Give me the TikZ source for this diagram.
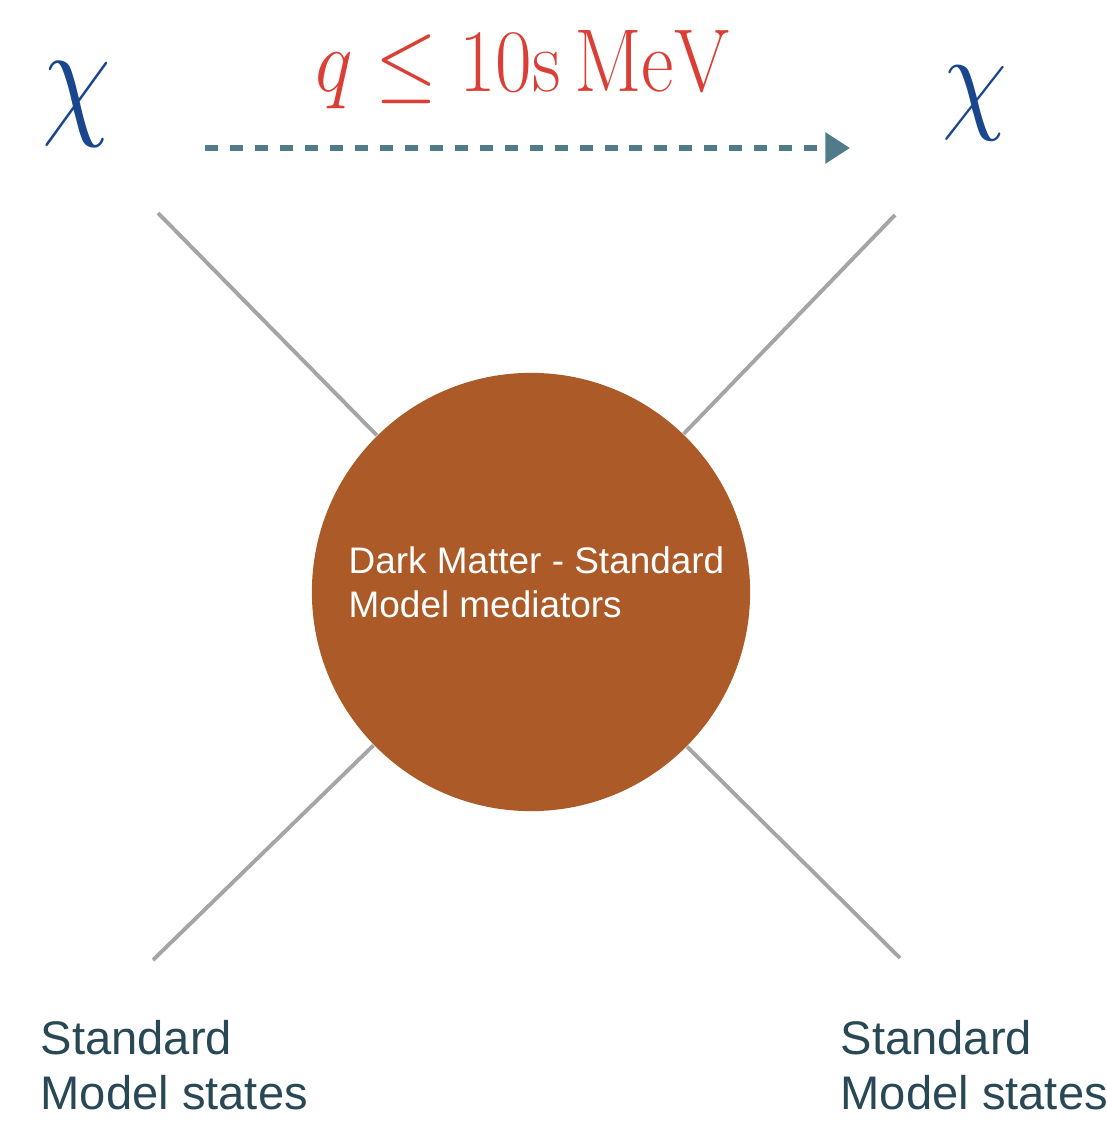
\documentclass[tikz,border=0pt]{standalone}
\usepackage{fontspec}
\setsansfont{Liberation Sans}
\usepackage{graphicx}
\usetikzlibrary{arrows.meta}
\definecolor{chiblue}{RGB}{25,70,140}
\definecolor{qred}{RGB}{218,62,52}
\definecolor{arrowteal}{RGB}{80,124,138}
\definecolor{leggray}{RGB}{165,165,165}
\definecolor{medbrown}{RGB}{172,91,40}
\definecolor{statetext}{RGB}{40,72,85}

\begin{document}
\begin{tikzpicture}[x=0.01cm,y=-0.01cm,
  chi/.style={text=chiblue,inner sep=0pt,anchor=base,font=\fontsize{24.88}{28}\selectfont},
  qlabel/.style={text=qred,inner sep=0pt,anchor=base west,font=\fontsize{24.88}{28}\selectfont},
  transfer/.style={draw=arrowteal,line width=1.7pt,dash pattern=on 3.7pt off 3.4pt,-{Triangle[length=7pt,width=8.5pt]}},
  leg/.style={draw=leggray,line width=1.1pt},
  mediator/.style={circle,fill=medbrown,minimum size=4.38cm,inner sep=0pt},
  medtext/.style={text=white,inner sep=0pt,anchor=west,align=left,font=\sffamily\fontsize{10.5}{12.5}\selectfont},
  states/.style={text=statetext,inner sep=0pt,anchor=west,align=left,font=\sffamily\fontsize{13.4}{15.6}\selectfont}]
\useasboundingbox (0,0) rectangle (1106,1125);
\node[mediator] (med) at (531,592) {};
\node[medtext] (medtxt) at (348,582) {Dark Matter - Standard\\Model mediators};
\node[chi] (chiL) at (77,121) {\scalebox{1.28}[1.55]{$\chi$}};
\node[chi] (chiR) at (975,118) {\scalebox{1.21}[1.36]{$\chi$}};
\node[qlabel] (qlab) at (315,92) {\scalebox{0.91}[1.02]{$q \leq 10\mathrm{s}\,\mathrm{MeV}$}};
\coordinate (qS) at (205,148);
\coordinate (qE) at (850,148);
\draw[transfer] (qS) -- (qE);
\coordinate (tl) at (158,213);
\coordinate (tr) at (895,215);
\coordinate (bl) at (153,960);
\coordinate (br) at (900,958);
\draw[leg] (tl) -- (med);
\draw[leg] (tr) -- (med);
\draw[leg] (bl) -- (med);
\draw[leg] (br) -- (med);
\node[states] (smL) at (40,1065) {Standard\\Model states};
\node[states] (smR) at (840,1065) {Standard\\Model states};
\end{tikzpicture}
\end{document}
